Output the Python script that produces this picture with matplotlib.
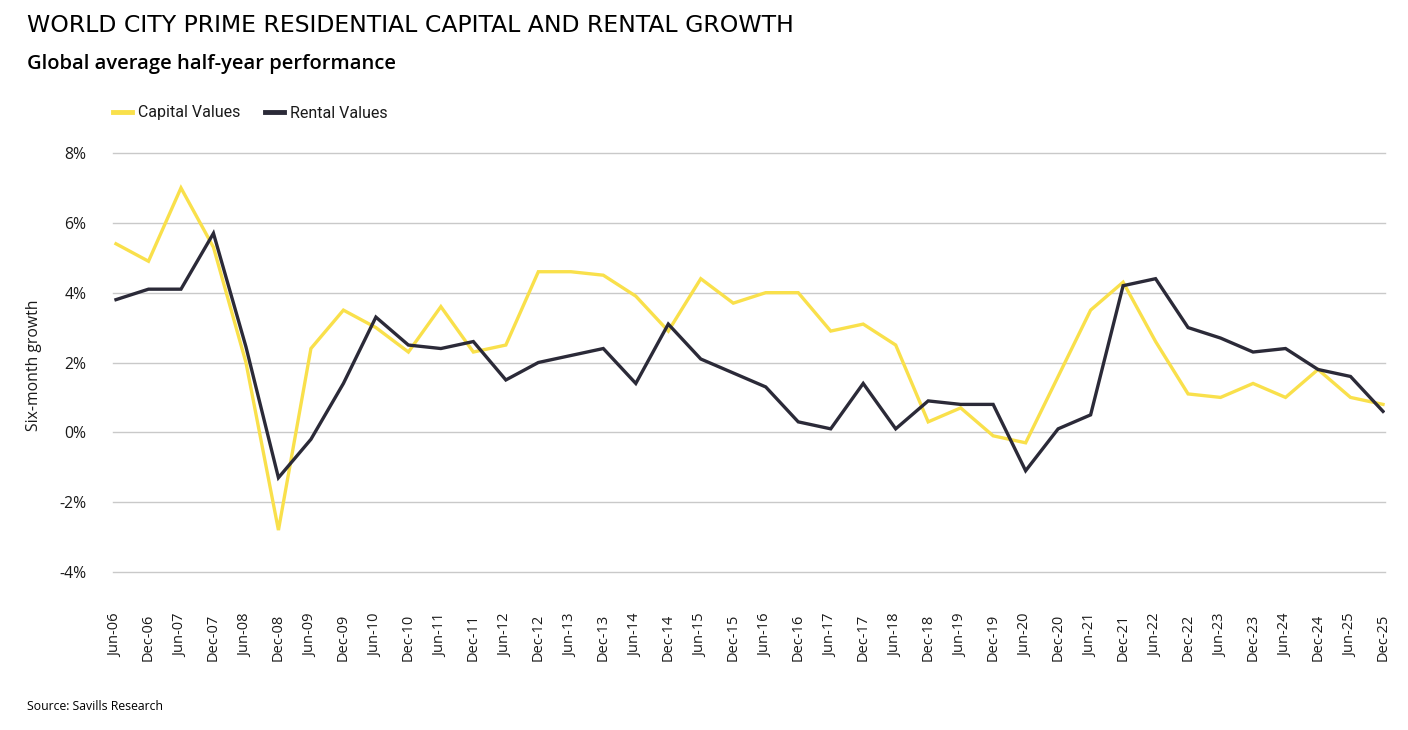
import matplotlib
matplotlib.use("Agg")
import matplotlib.pyplot as plt
from matplotlib.lines import Line2D

periods = ["Jun-06", "Dec-06", "Jun-07", "Dec-07", "Jun-08", "Dec-08", "Jun-09", "Dec-09",
           "Jun-10", "Dec-10", "Jun-11", "Dec-11", "Jun-12", "Dec-12", "Jun-13", "Dec-13",
           "Jun-14", "Dec-14", "Jun-15", "Dec-15", "Jun-16", "Dec-16", "Jun-17", "Dec-17",
           "Jun-18", "Dec-18", "Jun-19", "Dec-19", "Jun-20", "Dec-20", "Jun-21", "Dec-21",
           "Jun-22", "Dec-22", "Jun-23", "Dec-23", "Jun-24", "Dec-24", "Jun-25", "Dec-25"]

capital_values = [5.4, 4.9, 7.0, 5.3, 2.0, -2.8, 2.4, 3.5, 3.0, 2.3, 3.6, 2.3, 2.5, 4.6,
                  4.6, 4.5, 3.9, 2.9, 4.4, 3.7, 4.0, 4.0, 2.9, 3.1, 2.5, 0.3, 0.7, -0.1,
                  -0.3, 1.6, 3.5, 4.3, 2.6, 1.1, 1.0, 1.4, 1.0, 1.8, 1.0, 0.8]

rental_values = [3.8, 4.1, 4.1, 5.7, 2.45, -1.3, -0.2, 1.4, 3.3, 2.5, 2.4, 2.6, 1.5, 2.0,
                 2.2, 2.4, 1.4, 3.1, 2.1, 1.7, 1.3, 0.3, 0.1, 1.4, 0.1, 0.9, 0.8, 0.8,
                 -1.1, 0.1, 0.5, 4.2, 4.4, 3.0, 2.7, 2.3, 2.4, 1.8, 1.6, 0.6]

y_ticks = [-4, -2, 0, 2, 4, 6, 8]
y_tick_labels = ["-4%", "-2%", "0%", "2%", "4%", "6%", "8%"]

YELLOW = "#F9E04B"
DARK = "#2B2A38"
TEXT = "#1a1a1a"

W, H = 1408, 730
fig = plt.figure(figsize=(W / 100, H / 100), dpi=100)
fig.patch.set_facecolor("white")

left_px, right_px, top_px, bottom_px = 113, 1385, 153, 572
ax = fig.add_axes([left_px / W, 1 - bottom_px / H, (right_px - left_px) / W, (bottom_px - top_px) / H])

x = list(range(len(periods)))
ax.plot(x, capital_values, color=YELLOW, lw=2.4, solid_joinstyle="miter", zorder=3)
ax.plot(x, rental_values, color=DARK, lw=2.4, solid_joinstyle="miter", zorder=4)

sp = (1383 - 116) / 39
ax.set_xlim(-(116 - left_px) / sp, 39 + (right_px - 1383) / sp)
ax.set_ylim(-4, 8)
ax.set_yticks(y_ticks)
ax.set_yticklabels(y_tick_labels, fontsize=11.3, color=TEXT, family="Open Sans")
ax.set_xticks(x)
ax.set_xticklabels(periods, rotation=90, fontsize=10.5, color=TEXT, family="Open Sans")
ax.tick_params(axis="y", length=0, pad=19)
ax.tick_params(axis="x", length=0, pad=30)
for s in ax.spines.values():
    s.set_visible(False)
ax.grid(axis="y", color="#c9c9c9", lw=1.0)
for gl in ax.get_ygridlines():
    gl.set_clip_on(False)
ax.set_axisbelow(True)

ax.set_ylabel("Six-month growth", fontsize=11.3, color=TEXT, family="Open Sans")
ax.yaxis.set_label_coords(42 / W, 0.5, transform=fig.transFigure)

fig.text(27 / W, 1 - 26 / H, "WORLD CITY PRIME RESIDENTIAL CAPITAL AND RENTAL GROWTH",
         fontsize=16.9, color="black", family="DejaVu Sans", va="center", ha="left")
fig.text(27 / W, 1 - 64 / H, "Global average half-year performance",
         fontsize=14.5, color="black", family="Open Sans", weight="semibold", va="center", ha="left")
fig.text(27 / W, 1 - 706 / H, "Source: Savills Research",
         fontsize=8.8, color="black", family="Open Sans", va="center", ha="left")

handles = [Line2D([0], [0], color=YELLOW, lw=3.5), Line2D([0], [0], color=DARK, lw=3.5)]
leg = fig.legend(handles, ["Capital Values", "Rental Values"], loc="center left",
                 bbox_to_anchor=(99 / W, 1 - 113 / H), ncol=2, frameon=False,
                 prop={"family": "Roboto", "size": 11.5}, handlelength=1.15,
                 handletextpad=0.4, columnspacing=1.55)
for t in leg.get_texts():
    t.set_color(TEXT)

fig.savefig("out.png", dpi=100)
